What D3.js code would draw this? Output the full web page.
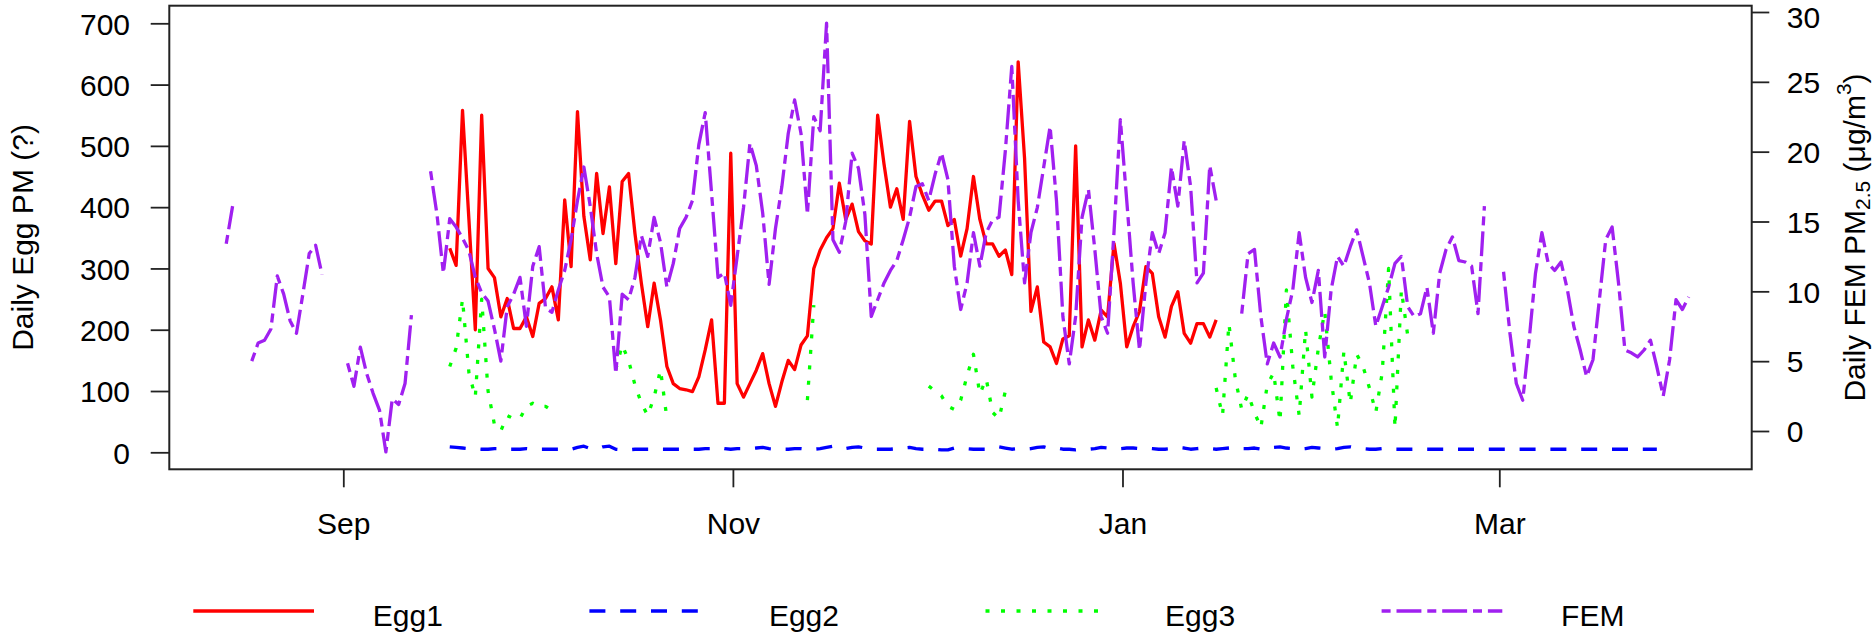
<!DOCTYPE html>
<html>
<head>
<meta charset="utf-8">
<script src="https://cdn.jsdelivr.net/npm/d3@7"></script>
<style>
  html, body { margin: 0; padding: 0; background: #fff; }
  svg { display: block; font-family: "Liberation Sans", Arial, sans-serif; }
</style>
</head>
<body>
<svg id="chart" width="1874" height="634"></svg>
<script>
// ---------------- data (daily values, null = missing) ----------------
const femStart = "2018-08-14";
const femValues = [
  13.4, 16.1, null, null, 5.0, 6.3, 6.5, 7.3, 11.1, 9.8, 7.9, 7.0, 9.8, 12.7, 13.3, 11.2, null, null,
  null, 4.85, 3.2, 6.0, 4.1, 2.7, 1.5, -1.5, 2.3, 1.9, 3.4, 8.3, null, null,
  18.6, 15.5, 11.3, 15.2, 14.6, 13.8, 12.9, 11.0, 9.9, 9.3, 7.3, 5.0, 8.9, 9.8, 11.0, 7.5,
  11.8, 13.2, 8.8, 8.5, 10.1, 11.5, 13.7, 16.5, 18.9, 16.1, 12.7, 10.3, 9.6, 4.1, 9.8, 9.4,
  11.0, 14.0, 12.5, 15.3, 13.5, 10.3, 12.0, 14.5, 15.3, 16.5, 20.5, 22.8, 17.0, 11.0, 11.3, 9.0,
  12.5, 16.0, 20.6, 19.0, 15.6, 10.5, 14.5, 17.5, 21.3, 23.7, 21.3, 15.5, 22.5, 21.5, 29.2, 13.7,
  12.8, 15.0, 19.9, 18.8, 15.5, 8.2, 9.4, 10.6, 11.5, 12.2, 13.7, 15.3, 17.5, 17.7, 16.5, 18.4,
  19.9, 18.0, 11.8, 8.7, 10.6, 14.2, 11.8, 14.2, 15.1, 15.3, 20.1, 26.1, 16.5, 10.6, 14.2, 16.0,
  18.9, 21.8, 16.5, 8.2, 4.8, 8.2, 15.3, 17.3, 13.0, 8.2, 7.0, 14.2, 22.3, 16.5, 10.6, 5.8,
  10.6, 14.2, 12.7, 14.2, 18.9, 16.1, 20.8, 17.5, 10.6, 11.3, 19.0, 16.5, null, null, null, 8.4,
  12.7, 13.0, 8.2, 4.8, 6.3, 5.3, 8.0, 10.1, 14.2, 11.0, 9.2, 11.5, 5.3, 10.1, 12.5, 11.8,
  13.2, 14.4, 12.5, 10.6, 7.5, 8.9, 10.3, 12.0, 12.5, 8.9, 8.2, 8.4, 10.3, 7.0, 11.3, 13.0,
  13.9, 12.2, 12.1, 11.8, 8.4, 16.1, null, null, 11.4, 7.0, 3.4, 2.2, 6.5, 11.3, 14.2, 12.0,
  11.5, 12.1, 10.1, 7.5, 5.8, 3.9, 5.1, 9.4, 13.7, 14.6, 10.6, 5.8, 5.6, 5.3, 5.8, 6.5,
  4.6, 2.5, 5.1, 9.4, 8.7, 9.6
];

const egg1Start = "2018-09-18";
const egg1Values = [
  333, 305, 558, 380, 200, 550, 300, 285, 221, 251, 202, 202, 221, 189, 243, 251,
  270, 216, 412, 303, 556, 385, 314, 455, 357, 433, 308, 442, 455, 357, 276, 205,
  276, 216, 140, 112, 104, 102, 99, 123, 167, 216, 80, 80, 488, 112, 90, 112,
  134, 161, 112, 75, 115, 150, 135, 175, 190, 300, 330, 350, 365, 439, 380, 405,
  360, 345, 340, 550, 470, 400, 430, 380, 540, 450, 420, 395, 410, 410, 370, 380,
  320, 365, 450, 380, 340, 340, 320, 330, 290, 637, 480, 230, 270, 180, 172, 145,
  185, 190, 500, 172, 216, 183, 232, 221, 341, 276, 172, 205, 230, 303, 292, 221,
  188, 238, 262, 194, 178, 210, 210, 188, 216
];

const egg2Start = "2018-09-18";
const egg2Values = [
  9, 8, 7, 6, 6, 5, 5, 6, 6, 5, 5, 5, 6, 5, 5, 5, 5, 5, 6, 5,
  8, 10, 6, 5, 9, 10, 5, 4, 4, 5, 5, 5, 5, 5, 5, 5, 5, 5, 5, 5,
  6, 6, 8, 6, 5, 6, 6, 6, 7, 8, 6, 5, 5, 5, 6, 6, 5, 5, 6, 8,
  10, 6, 6, 8, 9, 7, 5, 5, 5, 5, 6, 7, 8, 6, 5, 5, 5, 4, 4, 7,
  6, 6, 5, 5, 5, 7, 9, 7, 5, 6, 5, 6, 8, 9, 6, 7, 5, 5, 4, 5,
  5, 6, 8, 7, 5, 6, 7, 7, 6, 7, 6, 5, 5, 6, 8, 7, 5, 6, 7, 6,
  5, 6, 7, 8, 6, 6, 7, 5, 5, 8, 9, 7, 6, 5, 6, 8, 7, 6, 5, 6,
  8, 9, 7, 6, 5, 5, 6, 6, 5, 5, 5, 5, 5, 5, 5, 5, 5, 5, 5, 5,
  5, 5, 5, 5, 5, 5, 5, 5, 5, 5, 5, 5, 5, 5, 5, 5, 5, 5, 5, 5,
  5, 5, 5, 5, 5, 5, 5, 5, 5, 5
];

const egg3Start = "2018-09-18";
const egg3Values = [
  140, 170, 250, 130, 90, 250, 100, 45, 35, 60, 55, 55, 75, 80, 75, 75, 68,
  null, null, null, null, null, null, null, null, null,
  135, 175, 150, 110, 80, 60, 90, 135, 55,
  null, null, null, null, null, null, null, null, null, null, null, null, null, null, null, null, null, null, null, null, null,
  85, 240,
  null, null, null, null, null, null, null, null, null, null, null, null, null, null, null, null, null,
  108, 100, 92, 75, 70, 85, 125, 160, 95, 120, 65, 55, 100,
  null, null, null, null, null, null, null, null, null, null, null, null, null, null, null, null,
  null, null, null, null, null, null, null, null, null, null, null, null, null, null, null, null,
  105, 60, 210, 120, 70, 95, 65, 40, 110, 130, 50, 265, 140, 60, 200, 90,
  170, 230, 120, 40, 165, 80, 160, 140, 105, 65, 130, 300, 40, 265, 190
];

const leftTicks = [0, 100, 200, 300, 400, 500, 600, 700];
const rightTicks = [0, 5, 10, 15, 20, 25, 30];
const monthTicks = ["2018-09-01T08:00:00Z", "2018-11-01T08:00:00Z", "2019-01-01T08:00:00Z", "2019-03-01T08:00:00Z"];
const monthLabels = ["Sep", "Nov", "Jan", "Mar"];
const legendLabels = ["Egg1", "Egg2", "Egg3", "FEM"];

// ---------------- layout ----------------
const W = 1874, H = 634;
const box = { left: 169.3, right: 1751.7, top: 5.7, bottom: 469.3 };

const svg = d3.select("#chart");
svg.append("rect").attr("width", W).attr("height", H).attr("fill", "#fff");

const x = d3.scaleUtc()
  .domain([new Date(monthTicks[0]), new Date(monthTicks[3])])
  .range([343.3, 1499.3]);
const yL = d3.scaleLinear().domain([0, 700]).range([452.3, 23.3]);
const yR = d3.scaleLinear().domain([0, 30]).range([431, 12]);

function series(start, values) {
  const t0 = new Date(start + "T00:00:00Z");
  return values.map((v, i) => ({ date: d3.utcDay.offset(t0, i), v }));
}

const styles = {
  Egg1: { color: "#FF0000", dash: null, axis: yL },
  Egg2: { color: "#0000FF", dash: "16,14.8", axis: yL },
  Egg3: { color: "#00FF00", dash: "4,11.5", axis: yL },
  FEM:  { color: "#A020F0", dash: "9,5.9,24.9,5.9", axis: yR }
};
const data = {
  Egg1: series(egg1Start, egg1Values),
  Egg2: series(egg2Start, egg2Values),
  Egg3: series(egg3Start, egg3Values),
  FEM:  series(femStart, femValues)
};

svg.append("clipPath").attr("id", "plotclip")
  .append("rect")
  .attr("x", box.left).attr("y", box.top)
  .attr("width", box.right - box.left).attr("height", box.bottom - box.top);

const plot = svg.append("g").attr("clip-path", "url(#plotclip)");
["Egg1", "Egg2", "Egg3", "FEM"].forEach(name => {
  const s = styles[name];
  const line = d3.line()
    .defined(d => d.v !== null)
    .x(d => x(d.date))
    .y(d => s.axis(d.v));
  plot.append("path")
    .datum(data[name])
    .attr("d", line)
    .attr("fill", "none")
    .attr("stroke", s.color)
    .attr("stroke-width", 3.3)
    .attr("stroke-linejoin", "round")
    .attr("stroke-linecap", "butt")
    .attr("stroke-dasharray", s.dash);
});

// ---------------- box ----------------
svg.append("rect")
  .attr("x", box.left).attr("y", box.top)
  .attr("width", box.right - box.left).attr("height", box.bottom - box.top)
  .attr("fill", "none").attr("stroke", "#222").attr("stroke-width", 2);

// ---------------- axes ----------------
function styleAxis(g) {
  g.select(".domain").remove();
  g.selectAll(".tick line").attr("stroke", "#222").attr("stroke-width", 1.8);
  g.selectAll(".tick text")
    .attr("fill", "#000")
    .style("font-family", "'Liberation Sans', Arial, sans-serif")
    .style("font-size", "30px");
}

svg.append("g")
  .attr("transform", `translate(${box.left},0)`)
  .call(d3.axisLeft(yL).tickValues(leftTicks).tickSize(18.6).tickPadding(20.7).tickFormat(d3.format("d")))
  .call(styleAxis)
  .call(g => g.selectAll(".tick text").attr("dy", "0.36em"));

svg.append("g")
  .attr("transform", `translate(${box.right},0)`)
  .call(d3.axisRight(yR).tickValues(rightTicks).tickSize(17.6).tickPadding(17.4).tickFormat(d3.format("d")))
  .call(styleAxis)
  .call(g => g.selectAll(".tick text").attr("dy", d => d === 30 ? "0.5em" : "0.36em"));

svg.append("g")
  .attr("transform", `translate(0,${box.bottom})`)
  .call(d3.axisBottom(x).tickValues(monthTicks.map(d => new Date(d))).tickSize(18)
        .tickPadding(25).tickFormat((d, i) => monthLabels[i]))
  .call(styleAxis);

// ---------------- axis titles ----------------
svg.append("text")
  .attr("transform", `translate(33.3,${(box.top + box.bottom) / 2}) rotate(-90)`)
  .attr("text-anchor", "middle")
  .attr("font-size", 30)
  .attr("fill", "#000")
  .text("Daily Egg PM (?)");

const rl = svg.append("text")
  .attr("transform", `translate(1865,${(box.top + box.bottom) / 2}) rotate(-90)`)
  .attr("text-anchor", "middle")
  .attr("font-size", 30)
  .attr("fill", "#000");
rl.append("tspan").text("Daily FEM PM");
rl.append("tspan").attr("font-size", 21).attr("dy", 4.5).text("2.5");
rl.append("tspan").attr("dy", -4.5).text(" (\u03BCg/m");
rl.append("tspan").attr("font-size", 21).attr("dy", -14).text("3");
rl.append("tspan").attr("dy", 14).text(")");

// ---------------- legend ----------------
const legendY = 611;
const legendX0 = 193.3, legendStep = 396.1, legendLen = 120.7, legendTextOff = 179.5;
const leg = svg.append("g");
legendLabels.forEach((name, i) => {
  const s = styles[name];
  const lx = legendX0 + i * legendStep;
  leg.append("line")
    .attr("x1", lx).attr("x2", lx + legendLen)
    .attr("y1", legendY).attr("y2", legendY)
    .attr("stroke", s.color).attr("stroke-width", 3.3)
    .attr("stroke-linecap", "butt")
    .attr("stroke-dasharray", s.dash);
  leg.append("text")
    .attr("x", lx + legendTextOff).attr("y", 626)
    .attr("font-size", 30).attr("fill", "#000")
    .text(name);
});
</script>
</body>
</html>
